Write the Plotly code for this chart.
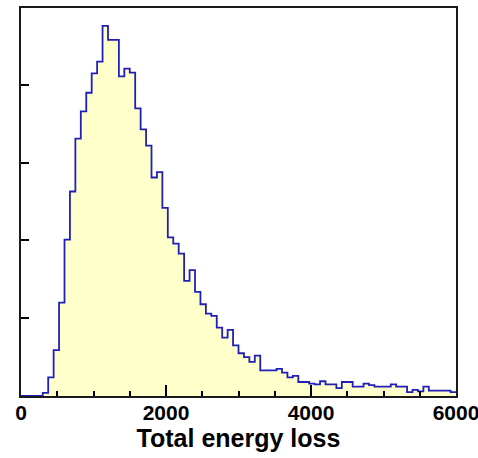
import plotly.graph_objects as go

# Histogram: 80 bins of width 75 from 0 to 6000
bin_start = 0
bin_width = 75
counts = [0, 0, 0, 0, 4, 24, 59, 120, 201, 263,
          331, 366, 390, 415, 430, 476, 458, 458, 411, 421,
          416, 370, 343, 322, 281, 288, 242, 204, 196, 183,
          148, 162, 134, 118, 106, 103, 88, 75, 85, 65,
          55, 50, 44, 52, 33, 33, 33, 35, 30, 24,
          26, 18, 18, 16, 15, 19, 15, 15, 10, 18,
          18, 12, 12, 16, 14, 12, 12, 12, 15, 12,
          12, 5, 8, 6, 12, 7, 7, 7, 7, 5]
x_tickvals = [0, 2000, 4000, 6000]
x_ticktext = ["0", "2000", "4000", "6000"]
x_title = "Total energy loss"

edges = [bin_start + i * bin_width for i in range(len(counts) + 1)]
ys = counts + [counts[-1]]

fig = go.Figure()
fig.add_trace(go.Scatter(
    x=edges, y=ys, mode="lines", line_shape="hv",
    line=dict(color="#2020b8", width=1.8),
    fill="tozeroy", fillcolor="#ffffcc",
    showlegend=False, hoverinfo="skip",
))

font_family = "Liberation Sans, Arial, sans-serif"
fig.update_layout(
    width=478, height=458,
    margin=dict(l=21, r=22, t=8, b=62, autoexpand=False),
    paper_bgcolor="white", plot_bgcolor="white",
    font=dict(family=font_family, color="black"),
)
fig.update_xaxes(
    range=[0, 6000], tickvals=x_tickvals, ticktext=x_ticktext,
    ticks="inside", ticklen=11, tickwidth=1.5, tickcolor="black",
    minor=dict(dtick=500, ticks="inside", ticklen=5, tickwidth=1.5, tickcolor="black"),
    showline=True, linecolor="#1a1a1a", linewidth=2, mirror=True,
    showgrid=False, zeroline=False, automargin=False,
    ticklabeloverflow="allow", ticklabelstandoff=-3,
    tickfont=dict(size=21, weight="bold", family=font_family),
    title=dict(text=x_title, font=dict(size=25, weight="bold", family=font_family), standoff=2),
)
fig.update_yaxes(
    range=[0, 499], dtick=100, showticklabels=False,
    ticks="inside", ticklen=8, tickwidth=1.5, tickcolor="black",
    showline=True, linecolor="#1a1a1a", linewidth=2, mirror=True,
    showgrid=False, zeroline=False, automargin=False,
)
fig.write_html("out.html", config={"displayModeBar": False},
               post_script="document.body.style.margin='0';")
